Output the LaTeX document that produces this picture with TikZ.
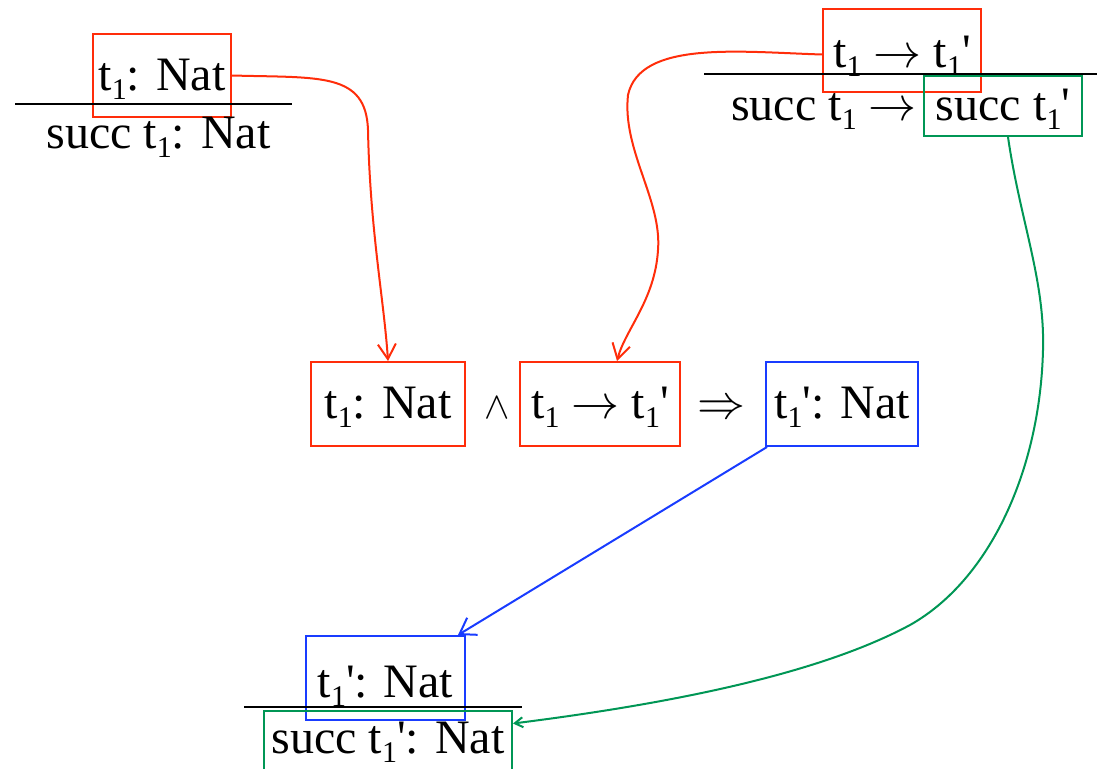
\documentclass[tikz,border=0pt]{standalone}
\usepackage{graphicx}
\usepackage{fontspec}
\setmainfont{Liberation Serif}
\usetikzlibrary{arrows.meta}

\definecolor{ruleRed}{RGB}{255,45,10}
\definecolor{ruleBlue}{RGB}{25,60,255}
\definecolor{ruleGreen}{RGB}{0,150,85}

% subscript index, prime and the large math symbols used in the judgements
\newcommand\sub[1]{\raisebox{-9pt}{\fontsize{30}{30}\selectfont #1}}
\newcommand\pr{\textquotesingle}
\newcommand\bigsym[2][4.8]{\scalebox{#1}{\fontsize{10}{12}\selectfont$#2$}}
\newcommand\steps{\bigsym{\rightarrow}}

\begin{document}
\begin{tikzpicture}[x=1pt,y=-1pt,
  every node/.style={inner sep=0pt,font=\fontsize{48}{56}\selectfont},
  frame/.style={draw,line width=2pt,anchor=base,align=center},
  rbox/.style={frame,draw=ruleRed},
  bbox/.style={frame,draw=ruleBlue},
  gbox/.style={frame,draw=ruleGreen},
  txt/.style={anchor=base},
  infer/.style={line width=2.4pt,black},
  redlink/.style={ruleRed,line width=2pt,-{Straight Barb[length=15pt,width=18pt]}},
  bluelink/.style={ruleBlue,line width=2pt,-{Straight Barb[length=15pt,width=20pt]}},
  greenlink/.style={ruleGreen,line width=2pt,-{Straight Barb[length=8pt,width=10pt]}}]

\useasboundingbox (0,0) rectangle (1097,768);

% rule T-Succ (top left)
\node[rbox,text height=56pt,text depth=27pt,minimum width=138pt] (pA) at (162,90) {t\sub1: Nat};
\draw[infer] (15,104) -- (292,104);
\node[txt] (cA) at (158.5,148) {succ t\sub1: Nat};

% rule E-Succ (top right)
\node[rbox,text height=58pt,text depth=25pt,minimum width=158pt] (pB) at (902,67) {t\sub1 \steps{} t\sub1\pr};
\draw[infer] (704,74) -- (1097,74);
\node[txt,anchor=base west] (cB) at (731,120) {succ t\sub1 \steps};
\node[gbox,text height=44pt,text depth=16pt,minimum width=158pt] (gB) at (1003,120) {succ t\sub1\pr};

% preservation statement
\node[rbox,text height=56pt,text depth=28pt,minimum width=154pt] (m1) at (388,418) {t\sub1: Nat};
\node[txt] (wedge) at (497,418) {\bigsym[3.8]{\wedge}};
\node[rbox,text height=56pt,text depth=28pt,minimum width=160pt] (m2) at (600,418) {t\sub1 \steps{} t\sub1\pr};
\node[txt] (imp) at (721,418) {\bigsym{\Rightarrow}};
\node[bbox,text height=56pt,text depth=28pt,minimum width=152pt] (m3) at (842,418) {t\sub1\pr: Nat};

% resulting derivation (bottom)
\node[bbox,text height=61pt,text depth=23pt,minimum width=159pt] (pC) at (385.5,697) {t\sub1\pr: Nat};
\draw[infer] (244,707) -- (522,707);
\node[gbox,text height=42pt,text depth=23pt,minimum width=248pt] (gC) at (388,753) {succ t\sub1\pr: Nat};

% connectors
\draw[redlink] (pA.east) .. controls (320,78) and (366,72) .. (368,130)
  .. controls (370,230) and (384,300) .. (m1.north);
\draw[redlink] ([yshift=-4pt]pB.west) .. controls (740,52) and (640,40) .. (628,95)
  .. controls (622,150) and (662,200) .. (658,250)
  .. controls (655,300) and (625,330) .. ([xshift=17pt]m2.north);
\draw[bluelink] ([xshift=2pt]m3.south west) -- ([xshift=-8pt]pC.north east);
\draw[greenlink] ([xshift=5pt]gB.south) .. controls (1020,220) and (1045,280) .. (1043,350)
  .. controls (1040,470) and (990,580) .. (910,625)
  .. controls (830,668) and (700,700) .. ([yshift=20pt]gC.east);
\end{tikzpicture}
\end{document}
